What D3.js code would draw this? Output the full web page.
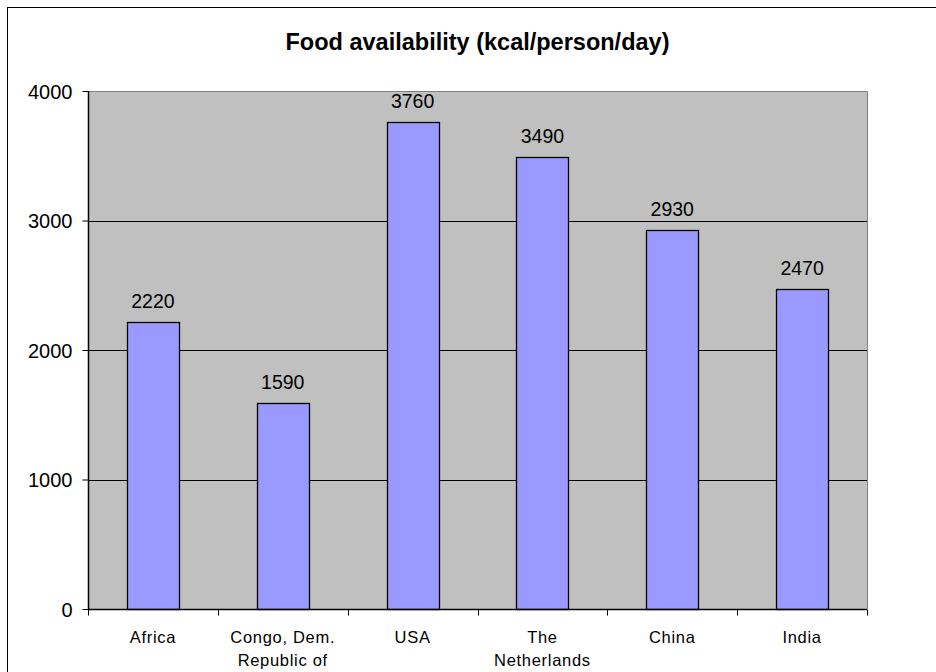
<!DOCTYPE html>
<html>
<head>
<meta charset="utf-8">
<script src="https://cdn.jsdelivr.net/npm/d3@7"></script>
<style>
  html, body { margin: 0; padding: 0; background: #fff; }
  svg { display: block; font-family: "Liberation Sans", Arial, sans-serif; }
</style>
</head>
<body>
<svg id="chart" width="936" height="672"></svg>
<script>
const categories = [["Africa"], ["Congo, Dem.", "Republic of"], ["USA"], ["The", "Netherlands"], ["China"], ["India"]];
const values = [2220, 1590, 3760, 3490, 2930, 2470];
const yTicks = [0, 1000, 2000, 3000, 4000];
const title = "Food availability (kcal/person/day)";

const svg = d3.select("#chart");
const W = 936, H = 672;
const plot = { left: 88, right: 867, top: 91, bottom: 609 };

// outer frame (extends beyond the visible window)
svg.append("rect").attr("x", 7.5).attr("y", 7.5).attr("width", 940).attr("height", 680)
  .attr("fill", "#fff").attr("stroke", "#000").attr("stroke-width", 1);

const keys = categories.map((c, i) => i);
const x = d3.scaleBand().domain(keys).range([plot.left, plot.right]).paddingInner(0).paddingOuter(0);
const y = d3.scaleLinear().domain([0, 4000]).range([plot.bottom, plot.top]);

// plot area background
svg.append("rect").attr("x", plot.left).attr("y", plot.top)
  .attr("width", plot.right - plot.left).attr("height", plot.bottom - plot.top)
  .attr("fill", "#C0C0C0");

// gridlines
svg.append("g").selectAll("line").data(yTicks.filter(t => t > 0 && t < 4000)).join("line")
  .attr("x1", plot.left).attr("x2", plot.right)
  .attr("y1", d => Math.round(y(d)) + 0.5).attr("y2", d => Math.round(y(d)) + 0.5)
  .attr("stroke", "#000").attr("stroke-width", 1);

// plot border top/right (gray)
svg.append("path")
  .attr("d", `M${plot.left},${plot.top + 0.5}H${plot.right + 0.5}V${plot.bottom}`)
  .attr("fill", "none").attr("stroke", "#808080").attr("stroke-width", 1);

// bars
const barW = x.bandwidth() * 0.4;
svg.append("g").selectAll("rect").data(values).join("rect")
  .attr("x", (d, i) => Math.round(x(i) + (x.bandwidth() - barW) / 2) + 0.5)
  .attr("y", d => Math.round(y(d)) + 0.5)
  .attr("width", Math.round(barW))
  .attr("height", d => Math.round(y(0)) - Math.round(y(d)))
  .attr("fill", "#9999FF").attr("stroke", "#000").attr("stroke-width", 1.3);

// data labels
svg.append("g").selectAll("text").data(values).join("text")
  .attr("x", (d, i) => x(i) + x.bandwidth() / 2)
  .attr("y", d => y(d) - 14)
  .attr("text-anchor", "middle")
  .attr("font-size", 19.5).attr("fill", "#000")
  .text(d => d);

// y axis
const yAxis = d3.axisLeft(y).tickValues(yTicks).tickSize(6).tickPadding(10).tickFormat(d3.format("d"));
const gy = svg.append("g").attr("transform", `translate(${plot.left + 0.5},0)`).call(yAxis);
gy.select(".domain").attr("stroke", "#000").attr("stroke-width", 1.5).attr("d", `M0,${plot.top}V${plot.bottom}`);
gy.selectAll(".tick line").attr("stroke", "#000");
gy.selectAll(".tick text").attr("font-size", 20).attr("font-family", "Liberation Sans, Arial, sans-serif").attr("fill", "#000").attr("dy", "0.35em");

// x axis
const xAxis = d3.axisBottom(x).tickSize(0).tickFormat("");
const gx = svg.append("g").attr("transform", `translate(0,${plot.bottom + 0.5})`).call(xAxis);
gx.select(".domain").attr("stroke", "#000").attr("stroke-width", 1.5).attr("d", `M${plot.left},0H${plot.right}`);
gx.selectAll(".tick").remove();
// category separators ticks
const sepPos = d3.range(categories.length + 1).map(i => i === categories.length ? plot.right : x(i));
gx.append("g").selectAll("line").data(sepPos).join("line")
  .attr("x1", d => Math.round(d) + 0.5).attr("x2", d => Math.round(d) + 0.5)
  .attr("y1", 0).attr("y2", 6).attr("stroke", "#000");

// category labels
const cl = svg.append("g").selectAll("text").data(categories).join("text")
  .attr("text-anchor", "middle").attr("font-size", 16.5).attr("letter-spacing", 0.7).attr("fill", "#000")
  .attr("transform", (d, i) => `translate(${x(i) + x.bandwidth() / 2},${plot.bottom + 34})`);
cl.selectAll("tspan").data(d => d).join("tspan")
  .attr("x", 0).attr("y", (d, j) => j * 23).text(d => d);

// title
svg.append("text").attr("x", (plot.left + plot.right) / 2).attr("y", 50)
  .attr("text-anchor", "middle").attr("font-size", 23.5).attr("font-weight", "bold").attr("fill", "#000")
  .text(title);
</script>
</body>
</html>
